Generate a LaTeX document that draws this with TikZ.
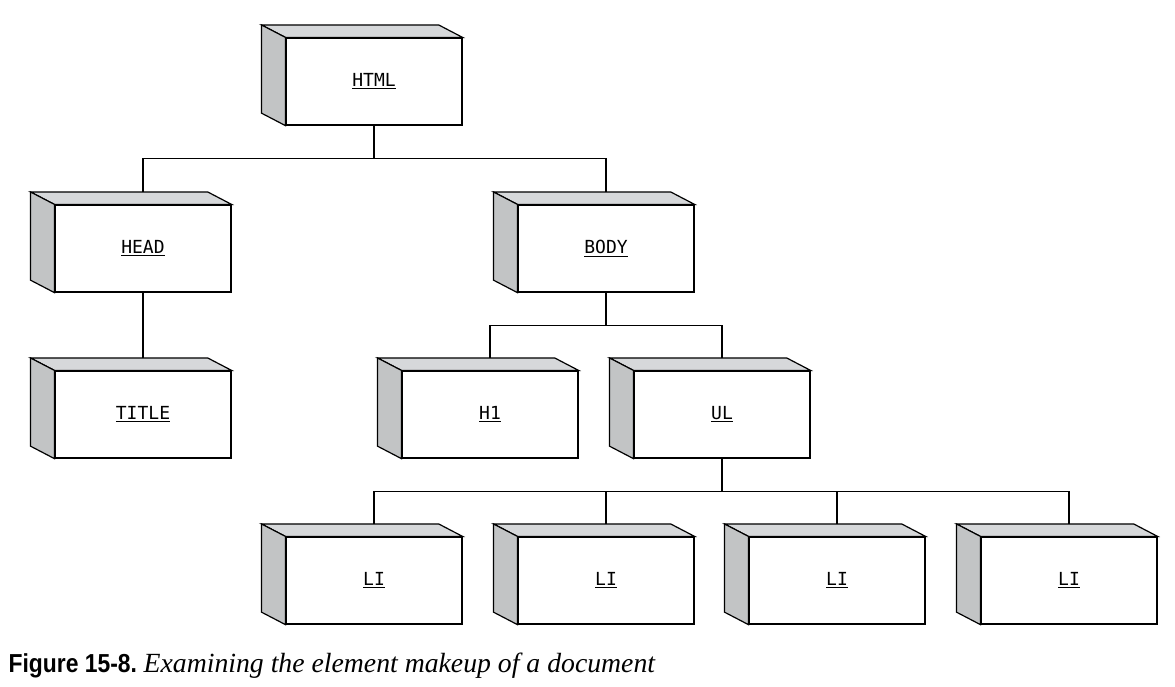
\documentclass[tikz,border=0pt]{standalone}
\usepackage{fontspec}
\usetikzlibrary{calc}
\newfontfamily\labelfont{DejaVu Sans Mono}
\newfontfamily\figfont[FakeStretch=0.88]{Liberation Sans}
\newfontfamily\capfont{Liberation Serif}
\definecolor{sidegray}{RGB}{194,196,197}
\definecolor{topgray}{RGB}{214,216,218}

\begin{document}
\begin{tikzpicture}[x=0.75pt,y=-0.75pt,line width=0.9pt,line join=miter]
\tikzstyle{box}=[rectangle,draw,fill=white,minimum width=132pt,minimum height=65.25pt,inner sep=0,font=\labelfont\fontsize{13.5}{15}\selectfont]
\useasboundingbox (0,0) rectangle (1175,686);

    \node[box] (html) at (374,81.5){\underline{HTML}};
    \node[box] (head) at (143,248.5){\underline{HEAD}};
    \node[box] (body) at (606,248.5){\underline{BODY}};
    \node[box] (title) at (143,414.5){\underline{TITLE}};
    \node[box] (h1) at (490,414.5){\underline{H1}};
    \node[box] (ul) at (722,414.5){\underline{UL}};
    \node[box] (li1) at (374,580.5){\underline{LI}};
    \node[box] (li2) at (606,580.5){\underline{LI}};
    \node[box] (li3) at (837,580.5){\underline{LI}};
    \node[box] (li4) at (1069,580.5){\underline{LI}};

    % top and side faces, and the point where a connector meets the top face
    \foreach \n in {html,head,body,title,h1,ul,li1,li2,li3,li4}{
      \filldraw[fill=topgray] (\n.north west) -- ++(-24,-12.5) -- ($(\n.north east)+(-24,-12.5)$) -- (\n.north east) -- cycle;
      \filldraw[fill=sidegray] (\n.north west) -- ++(-24,-12.5) -- ($(\n.south west)+(-24,-12.5)$) -- (\n.south west) -- cycle;
      \coordinate (\n-top) at ($(\n.north)+(0,-12.5)$);
    }

    \draw (html.south) -- ++(0,33) -| (head-top);
    \draw (html.south) -- ++(0,33) -| (body-top);
    \draw (head.south) -- (title-top);
    \draw (body.south) -- ++(0,33) -| (h1-top);
    \draw (body.south) -- ++(0,33) -| (ul-top);
    \draw (ul.south) -- ++(0,33) -| (li1-top);
    \draw (ul.south) -- ++(0,33) -| (li2-top);
    \draw (ul.south) -- ++(0,33) -| (li3-top);
    \draw (ul.south) -- ++(0,33) -| (li4-top);

    \node[anchor=base west,inner sep=0] (caption) at (8,672){{\figfont\bfseries\fontsize{19.5}{22}\selectfont Figure 15-8.}\hspace{5pt}{\capfont\itshape\fontsize{20.8}{24}\selectfont Examining the element makeup of a document}};

\end{tikzpicture}
\end{document}
